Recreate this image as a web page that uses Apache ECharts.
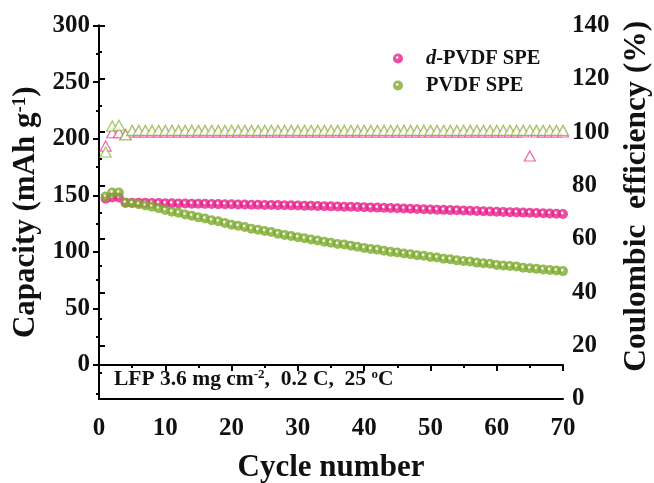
<!DOCTYPE html>
<html>
<head>
<meta charset="utf-8">
<script src="https://cdn.jsdelivr.net/npm/echarts@6/dist/echarts.min.js"></script>
<style>
html,body{margin:0;padding:0;background:#fff;}
#chart{width:654px;height:483px;}
</style>
</head>
<body>
<div id="chart"></div>
<script>
// ---- data ----
var cycles = [1,2,3,4,5,6,7,8,9,10,11,12,13,14,15,16,17,18,19,20,21,22,23,24,25,26,27,28,29,30,31,32,33,34,35,36,37,38,39,40,41,42,43,44,45,46,47,48,49,50,51,52,53,54,55,56,57,58,59,60,61,62,63,64,65,66,67,68,69,70];
var dPvdfCapacity = [147,148,148,143.5,143.5,143.4,143.3,143.2,143.1,143,142.9,142.8,142.7,142.6,142.5,142.4,142.3,142.2,142.1,142,141.9,141.8,141.7,141.6,141.5,141.4,141.3,141.2,141.1,141,140.8,140.7,140.5,140.4,140.2,140.1,139.9,139.8,139.6,139.5,139.3,139.1,138.9,138.7,138.5,138.3,138.1,137.9,137.7,137.5,137.3,137.1,136.9,136.7,136.5,136.3,136.1,135.9,135.7,135.5,135.3,135.1,134.9,134.7,134.5,134.3,134.1,133.9,133.7,133.5];
var pvdfCapacity = [149,152.5,152.5,143.5,143,142,141,140,138.5,137,135.5,134.5,133,132,130.5,129.5,128,127,125.5,124,123,122,120.5,119.5,118.5,117.5,116,115,114,113,112,111,110,109,108,107,106.5,105.5,104.5,103.5,102.5,102,101,100,99.5,98.5,98,97,96.5,95.5,95,94,93.5,92.5,92,91.5,90.5,90,89.5,88.5,88,87.5,87,86,85.5,85,84.5,84,83.5,83];
var dPvdfCE = [94.8,99.8,99.8,99.2,100.1,100.1,100.1,100.1,100.1,100.1,100.1,100.1,100.1,100.1,100.1,100.1,100.1,100.1,100.1,100.1,100.1,100.1,100.1,100.1,100.1,100.1,100.1,100.1,100.1,100.1,100.1,100.1,100.1,100.1,100.1,100.1,100.1,100.1,100.1,100.1,100.1,100.1,100.1,100.1,100.1,100.1,100.1,100.1,100.1,100.1,100.1,100.1,100.1,100.1,100.1,100.1,100.1,100.1,100.1,100.1,100.1,100.1,100.1,100.1,91.1,100.1,100.1,100.1,100.1,100.1];
var pvdfCE = [92.6,102.3,102.6,99.0,100.7,100.7,100.7,100.7,100.7,100.7,100.7,100.7,100.7,100.7,100.7,100.7,100.7,100.7,100.7,100.7,100.7,100.7,100.7,100.7,100.7,100.7,100.7,100.7,100.7,100.7,100.7,100.7,100.7,100.7,100.7,100.7,100.7,100.7,100.7,100.7,100.7,100.7,100.7,100.7,100.7,100.7,100.7,100.7,100.7,100.7,100.7,100.7,100.7,100.7,100.7,100.7,100.7,100.7,100.7,100.7,100.7,100.7,100.7,100.7,100.7,100.7,100.7,100.7,100.7,100.7];
var xTicks = [0,10,20,30,40,50,60,70];
var leftTicks = [0,50,100,150,200,250,300];
var rightTicks = [0,20,40,60,80,100,120,140];

function pairs(xs, ys){ return xs.map(function(x,i){ return [x, ys[i]]; }); }
function sphere(c){
  return {type:'radial', x:0.42, y:0.4, r:0.6, colorStops:[
    {offset:0,color:'#ffffff'},{offset:0.1,color:'#ffffff'},{offset:0.32,color:c},{offset:1,color:c}]};
}
var PINK = '#e8208a', GREEN = '#7cab2c';
var FONT = '"Liberation Serif", "Times New Roman", serif';
var lab = {fontFamily:FONT, fontWeight:'bold', fontSize:25, color:'#111'};

var chart = echarts.init(document.getElementById('chart'), null, {renderer:'canvas'});
chart.setOption({
  animation:false,
  backgroundColor:'#fff',
  grid:{left:99, right:91, top:25.5, bottom:84, containLabel:false, outerBoundsMode:'none'},
  legend:{
    orient:'vertical', left:388, top:43, itemGap:6, itemWidth:10, itemHeight:10,
    data:['d-PVDF SPE','PVDF SPE'],
    formatter:function(n){ return n==='d-PVDF SPE' ? '{i|d}{b|-PVDF SPE}' : '{b|PVDF SPE}'; },
    textStyle:{fontFamily:FONT, fontWeight:'bold', fontSize:20.5, color:'#111', padding:[0,0,0,18],
      rich:{i:{fontFamily:FONT, fontWeight:'bold', fontStyle:'italic', fontSize:20.5, color:'#111'},
            b:{fontFamily:FONT, fontWeight:'bold', fontSize:20.5, color:'#111'}}}
  },
  xAxis:[{
    type:'value', min:0, max:70, interval:10, position:'bottom',
    name:'Cycle number', nameLocation:'middle', nameGap:53,
    nameTextStyle:{fontFamily:FONT, fontWeight:'bold', fontSize:31, color:'#111'},
    axisLine:{lineStyle:{color:'#000', width:2}},
    axisTick:{show:true, inside:false, length:6, lineStyle:{width:2, color:'#000'}},
    minorTick:{show:true, splitNumber:2, length:3, lineStyle:{width:2, color:'#000'}},
    axisLabel:Object.assign({margin:17, customValues:xTicks}, lab),
    splitLine:{show:false}
  },{
    type:'value', min:0, max:70, position:'top',
    axisLine:{show:true, lineStyle:{color:'#000', width:2}},
    axisTick:{show:false}, axisLabel:{show:false}, splitLine:{show:false}
  }],
  yAxis:[{
    type:'value', min:-30, max:300, splitNumber:6, position:'left',
    name:'{a|Capacity (mAh g}{s|-1}{a|)}', nameLocation:'middle', nameGap:53,
    nameTextStyle:{rich:{
      a:{fontFamily:FONT, fontWeight:'bold', fontSize:31, color:'#111', verticalAlign:'bottom'},
      s:{fontFamily:FONT, fontWeight:'bold', fontSize:19, color:'#111', verticalAlign:'top'}}},
    axisLine:{lineStyle:{color:'#000', width:2}},
    axisTick:{show:true, inside:false, length:6, customValues:leftTicks, lineStyle:{width:2, color:'#000'}},
    minorTick:{show:true, splitNumber:2, length:3, lineStyle:{width:2, color:'#000'}},
    axisLabel:Object.assign({margin:9, customValues:leftTicks}, lab),
    splitLine:{show:false}
  },{
    type:'value', min:0, max:140, interval:20, position:'right',
    name:'Coulombic  efficiency (%)', nameLocation:'middle', nameGap:56,
    nameTextStyle:{fontFamily:FONT, fontWeight:'bold', fontSize:31.5, color:'#111', padding:[0,0,0,32]},
    axisLine:{lineStyle:{color:'#000', width:2}},
    axisTick:{show:true, inside:false, length:6, customValues:rightTicks, lineStyle:{width:2, color:'#000'}},
    minorTick:{show:true, splitNumber:2, length:3, lineStyle:{width:2, color:'#000'}},
    axisLabel:Object.assign({margin:9, customValues:rightTicks}, lab),
    splitLine:{show:false}
  }],
  graphic:[{
    type:'text', left:114, top:368,
    style:{
      text:'{a|LFP 3.6 mg cm}{s|-2}{a|,  0.2 C,  25 }{s|o}{a|C}',
      rich:{
        a:{fontFamily:FONT, fontWeight:'bold', fontSize:21.5, fill:'#111', verticalAlign:'bottom'},
        s:{fontFamily:FONT, fontWeight:'bold', fontSize:13, fill:'#111', verticalAlign:'top'}
      }
    }
  }],
  series:[
    {name:'d-PVDF CE', type:'scatter', xAxisIndex:0, yAxisIndex:1, symbol:'triangle', symbolSize:[11,10],
     itemStyle:{color:'#fff', borderColor:'#ee3c9c', borderWidth:1.2}, data:pairs(cycles, dPvdfCE), z:3},
    {name:'PVDF CE', type:'scatter', xAxisIndex:0, yAxisIndex:1, symbol:'triangle', symbolSize:[11,10],
     itemStyle:{color:'#fff', borderColor:'#86b838', borderWidth:1.2}, data:pairs(cycles, pvdfCE), z:4},
    {name:'d-PVDF SPE', type:'scatter', xAxisIndex:0, yAxisIndex:0, symbol:'circle', symbolSize:10,
     itemStyle:{color:sphere(PINK)}, data:pairs(cycles, dPvdfCapacity), z:5},
    {name:'PVDF SPE', type:'scatter', xAxisIndex:0, yAxisIndex:0, symbol:'circle', symbolSize:10,
     itemStyle:{color:sphere(GREEN)}, data:pairs(cycles, pvdfCapacity), z:6}
  ]
});
</script>
</body>
</html>
